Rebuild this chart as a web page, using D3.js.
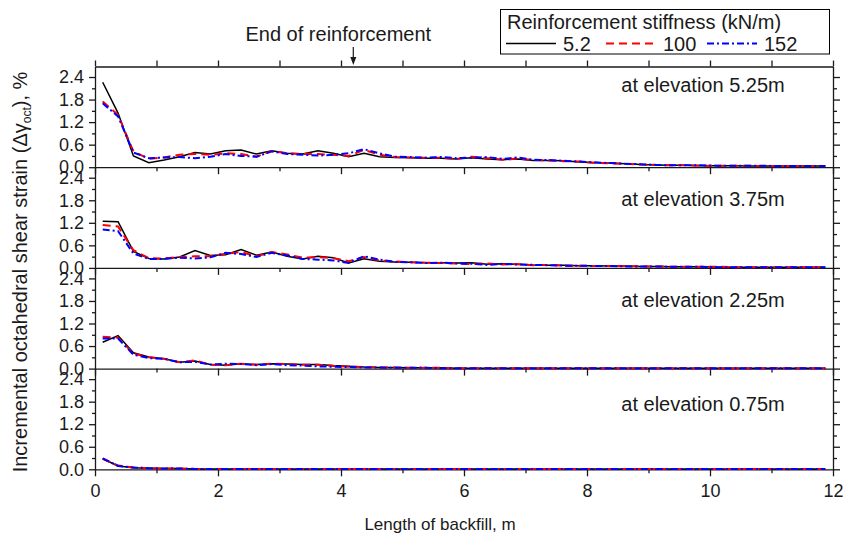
<!DOCTYPE html>
<html>
<head>
<meta charset="utf-8">
<script src="https://cdnjs.cloudflare.com/ajax/libs/d3/7.8.5/d3.min.js"></script>
<style>
    body { margin: 0; background: #fff; }
    #chart { width: 851px; height: 538px; }
    svg { display: block; font-family: 'Liberation Sans', Arial, sans-serif; }
    .axis path, .axis line { stroke: #1a1a1a; stroke-width: 1.3; }
    .axis text { fill: #1a1a1a; }
    .series { fill: none; }
</style>
</head>
<body>
<div id="chart"><svg></svg></div>
<script>

// positions along the backfill (m)
var xPos = [0.125, 0.375, 0.625, 0.875, 1.125, 1.375, 1.625, 1.875, 2.125, 2.375, 2.625, 2.875,
    3.125, 3.375, 3.625, 3.875, 4.125, 4.375, 4.625, 4.875, 5.125, 5.375, 5.625, 5.875,
    6.125, 6.375, 6.625, 6.875, 7.125, 7.375, 7.625, 7.875, 8.125, 8.375, 8.625, 8.875,
    9.125, 9.375, 9.625, 9.875, 10.125, 10.375, 10.625, 10.875, 11.125, 11.375, 11.625, 11.875];

var stiffness = ['5.2', '100', '152'];
var elevations = ['5.25m', '3.75m', '2.25m', '0.75m'];

var xTicks = [0, 2, 4, 6, 8, 10, 12];
var xMinorTicks = [1, 3, 5, 7, 9, 11];
var yTicks = [0, 0.6, 1.2, 1.8, 2.4];
var yMinorTicks = [0.3, 0.9, 1.5, 2.1];
var endOfReinforcement = 4.2;

// elevation 5.25 m
var e525k5 = [2.26, 1.44, 0.30, 0.12, 0.19, 0.28, 0.39, 0.35, 0.44, 0.46, 0.35, 0.44,
    0.37, 0.35, 0.44, 0.37, 0.28, 0.37, 0.28, 0.26, 0.25, 0.24, 0.24, 0.22,
    0.25, 0.22, 0.20, 0.22, 0.18, 0.18, 0.17, 0.14, 0.12, 0.11, 0.09, 0.07,
    0.06, 0.05, 0.05, 0.04, 0.04, 0.04, 0.03, 0.03, 0.03, 0.03, 0.03, 0.03];
var e525k100 = [1.75, 1.39, 0.42, 0.22, 0.26, 0.33, 0.35, 0.33, 0.37, 0.35, 0.28, 0.43,
    0.37, 0.35, 0.35, 0.33, 0.30, 0.46, 0.33, 0.27, 0.26, 0.25, 0.25, 0.22,
    0.28, 0.24, 0.20, 0.23, 0.19, 0.18, 0.16, 0.15, 0.12, 0.10, 0.09, 0.07,
    0.06, 0.05, 0.05, 0.04, 0.04, 0.04, 0.04, 0.03, 0.03, 0.03, 0.03, 0.03];
var e525k152 = [1.70, 1.35, 0.39, 0.24, 0.26, 0.27, 0.24, 0.28, 0.35, 0.30, 0.28, 0.42,
    0.35, 0.33, 0.31, 0.33, 0.37, 0.48, 0.37, 0.28, 0.27, 0.25, 0.27, 0.24,
    0.25, 0.27, 0.22, 0.26, 0.20, 0.19, 0.17, 0.15, 0.13, 0.11, 0.09, 0.08,
    0.06, 0.05, 0.05, 0.05, 0.04, 0.04, 0.04, 0.04, 0.03, 0.03, 0.03, 0.03];

// elevation 3.75 m
var e375k5 = [1.24, 1.23, 0.44, 0.25, 0.24, 0.29, 0.46, 0.33, 0.35, 0.49, 0.34, 0.42,
    0.31, 0.24, 0.31, 0.27, 0.13, 0.24, 0.18, 0.16, 0.15, 0.14, 0.14, 0.13,
    0.14, 0.10, 0.11, 0.10, 0.08, 0.07, 0.07, 0.06, 0.06, 0.05, 0.05, 0.04,
    0.04, 0.03, 0.03, 0.03, 0.02, 0.02, 0.02, 0.02, 0.02, 0.02, 0.02, 0.02];
var e375k100 = [1.14, 1.10, 0.47, 0.26, 0.25, 0.29, 0.31, 0.31, 0.38, 0.42, 0.31, 0.42,
    0.36, 0.27, 0.29, 0.26, 0.18, 0.29, 0.20, 0.17, 0.15, 0.14, 0.13, 0.12,
    0.10, 0.12, 0.09, 0.10, 0.07, 0.08, 0.06, 0.06, 0.05, 0.05, 0.05, 0.04,
    0.04, 0.03, 0.03, 0.03, 0.03, 0.02, 0.02, 0.02, 0.02, 0.02, 0.02, 0.02];
var e375k152 = [1.02, 0.98, 0.38, 0.24, 0.24, 0.27, 0.25, 0.28, 0.40, 0.37, 0.29, 0.40,
    0.33, 0.24, 0.22, 0.20, 0.13, 0.31, 0.22, 0.16, 0.15, 0.13, 0.14, 0.12,
    0.11, 0.08, 0.11, 0.09, 0.08, 0.07, 0.06, 0.06, 0.05, 0.05, 0.04, 0.04,
    0.04, 0.03, 0.03, 0.03, 0.02, 0.02, 0.02, 0.02, 0.02, 0.02, 0.02, 0.02];

// elevation 2.25 m
var e225k5 = [0.70, 0.88, 0.42, 0.31, 0.26, 0.17, 0.20, 0.11, 0.09, 0.13, 0.11, 0.13,
    0.12, 0.11, 0.11, 0.08, 0.06, 0.04, 0.03, 0.03, 0.02, 0.02, 0.02, 0.01,
    0.01, 0.01, 0.01, 0.01, 0.01, 0.01, 0.01, 0.01, 0.01, 0.01, 0.01, 0.01,
    0.01, 0.01, 0.01, 0.01, 0.01, 0.01, 0.01, 0.01, 0.01, 0.01, 0.01, 0.01];
var e225k100 = [0.85, 0.82, 0.40, 0.30, 0.26, 0.17, 0.22, 0.10, 0.09, 0.13, 0.10, 0.13,
    0.12, 0.10, 0.10, 0.07, 0.05, 0.04, 0.03, 0.03, 0.02, 0.02, 0.02, 0.01,
    0.01, 0.01, 0.01, 0.01, 0.01, 0.01, 0.01, 0.01, 0.01, 0.01, 0.01, 0.01,
    0.01, 0.01, 0.01, 0.01, 0.01, 0.01, 0.01, 0.01, 0.01, 0.01, 0.01, 0.01];
var e225k152 = [0.80, 0.80, 0.37, 0.28, 0.26, 0.17, 0.18, 0.11, 0.13, 0.12, 0.09, 0.12,
    0.09, 0.08, 0.06, 0.05, 0.04, 0.03, 0.03, 0.02, 0.02, 0.02, 0.01, 0.01,
    0.01, 0.01, 0.01, 0.01, 0.01, 0.01, 0.01, 0.01, 0.01, 0.01, 0.01, 0.01,
    0.01, 0.01, 0.01, 0.01, 0.01, 0.01, 0.01, 0.01, 0.01, 0.01, 0.01, 0.01];

// elevation 0.75 m
var e075k5 = [0.28, 0.09, 0.04, 0.03, 0.02, 0.02, 0.01, 0.01, 0.01, 0.01, 0.01, 0.01,
    0.01, 0.01, 0.01, 0.01, 0.01, 0.01, 0.01, 0.01, 0.01, 0.01, 0.01, 0.01,
    0.01, 0.01, 0.01, 0.01, 0.01, 0.01, 0.01, 0.01, 0.01, 0.01, 0.01, 0.01,
    0.01, 0.01, 0.01, 0.01, 0.01, 0.01, 0.01, 0.01, 0.01, 0.01, 0.01, 0.01];
var e075k100 = [0.28, 0.10, 0.05, 0.03, 0.02, 0.02, 0.01, 0.01, 0.01, 0.01, 0.01, 0.01,
    0.01, 0.01, 0.01, 0.01, 0.01, 0.01, 0.01, 0.01, 0.01, 0.01, 0.01, 0.01,
    0.01, 0.01, 0.01, 0.01, 0.01, 0.01, 0.01, 0.01, 0.01, 0.01, 0.01, 0.01,
    0.01, 0.01, 0.01, 0.01, 0.01, 0.01, 0.01, 0.01, 0.01, 0.01, 0.01, 0.01];
var e075k152 = [0.29, 0.09, 0.05, 0.03, 0.02, 0.02, 0.01, 0.01, 0.01, 0.01, 0.01, 0.01,
    0.01, 0.01, 0.01, 0.01, 0.01, 0.01, 0.01, 0.01, 0.01, 0.01, 0.01, 0.01,
    0.01, 0.01, 0.01, 0.01, 0.01, 0.01, 0.01, 0.01, 0.01, 0.01, 0.01, 0.01,
    0.01, 0.01, 0.01, 0.01, 0.01, 0.01, 0.01, 0.01, 0.01, 0.01, 0.01, 0.01];

var panelValues = [
    [e525k5, e525k100, e525k152],
    [e375k5, e375k100, e375k152],
    [e225k5, e225k100, e225k152],
    [e075k5, e075k100, e075k152]
];

// styles
var colors = ['#000000', '#ff0000', '#0000ff'],
    dashes = [null, '8,5', '7,3,2,3'],
    widths = [1.5, 2, 2],
    labelOffset = [25, 39, 39, 42];

var svg = d3.select('#chart svg')
    .attr('width', 851)
    .attr('height', 538);

var margin = { left: 95, right: 18, top: 66.5 },
    plotWidth = 851 - margin.left - margin.right,
    panelH = 100.7;

var x = d3.scaleLinear().domain([0, 12]).range([margin.left, margin.left + plotWidth]);

var line = d3.line()
    .x(function(d) { return x(d.x); })
    .y(function(d) { return d.yScale(d.v); });

function styleAxis(g, size) {
    g.selectAll('text')
        .attr('font-family', "'Liberation Sans', Arial, sans-serif")
        .style('font-size', size + 'px');
}

elevations.forEach(function(elev, p) {

    var top = margin.top + p * panelH,
        bottom = top + panelH;

    var y = d3.scaleLinear().domain([0, 2.68]).range([bottom, top]);

    var g = svg.append('g').attr('class', 'panel');

    // left axis
    g.append('g')
        .attr('class', 'axis')
        .attr('transform', 'translate(' + margin.left + ',0)')
        .call(d3.axisLeft(y).tickValues(yTicks).tickSize(6).tickSizeOuter(0).tickPadding(5)
            .tickFormat(d3.format('.1f')))
        .call(styleAxis, 18);
    g.append('g')
        .attr('class', 'axis')
        .attr('transform', 'translate(' + margin.left + ',0)')
        .call(d3.axisLeft(y).tickValues(yMinorTicks).tickSize(3).tickFormat(''))
        .select('.domain').remove();

    // right axis
    g.append('g')
        .attr('class', 'axis')
        .attr('transform', 'translate(' + (margin.left + plotWidth) + ',0)')
        .call(d3.axisRight(y).tickValues(yTicks).tickSize(7).tickSizeOuter(0).tickFormat(''));
    g.append('g')
        .attr('class', 'axis')
        .attr('transform', 'translate(' + (margin.left + plotWidth) + ',0)')
        .call(d3.axisRight(y).tickValues(yMinorTicks).tickSize(4).tickFormat(''))
        .select('.domain').remove();

    // bottom axis
    var last = p === elevations.length - 1;
    g.append('g')
        .attr('class', 'axis')
        .attr('transform', 'translate(0,' + bottom + ')')
        .call(d3.axisBottom(x).tickValues(xTicks).tickSize(7).tickSizeOuter(0).tickPadding(8)
            .tickFormat(last ? d3.format('d') : ''))
        .call(styleAxis, 18);
    g.append('g')
        .attr('class', 'axis')
        .attr('transform', 'translate(0,' + bottom + ')')
        .call(d3.axisBottom(x).tickValues(xMinorTicks).tickSize(4).tickFormat(''))
        .select('.domain').remove();

    if (p === 0) {
        g.append('g')
            .attr('class', 'axis')
            .attr('transform', 'translate(0,' + top + ')')
            .call(d3.axisTop(x).tickValues(xTicks.concat(xMinorTicks)).tickSize(6).tickSizeOuter(0).tickFormat(''));
    }

    // series
    panelValues[p].forEach(function(vals, s) {
        var pts = vals.map(function(v, i) {
            return { x: xPos[i], v: v, yScale: y };
        });
        g.append('path')
            .datum(pts)
            .attr('class', 'series')
            .attr('d', line)
            .style('stroke', colors[s])
            .style('stroke-width', widths[s])
            .style('stroke-dasharray', dashes[s]);
    });

    g.append('text')
        .attr('x', 703)
        .attr('y', top + labelOffset[p])
        .attr('text-anchor', 'middle')
        .style('font-size', '20px')
        .attr('fill', '#1a1a1a')
        .text('at elevation ' + elev);
});

// end of reinforcement marker
var ax = x(endOfReinforcement);
svg.append('text')
    .attr('x', ax - 15)
    .attr('y', 41)
    .attr('text-anchor', 'middle')
    .style('font-size', '20px')
    .attr('fill', '#1a1a1a')
    .text('End of reinforcement');
svg.append('line')
    .attr('x1', ax).attr('x2', ax)
    .attr('y1', 47).attr('y2', 60)
    .attr('stroke', '#1a1a1a')
    .attr('stroke-width', 1.2);
svg.append('path')
    .attr('d', 'M' + (ax - 3) + ',57L' + (ax + 3) + ',57L' + ax + ',65Z')
    .attr('fill', '#1a1a1a');

// axis titles
svg.append('text')
    .attr('x', 440)
    .attr('y', 530)
    .attr('text-anchor', 'middle')
    .style('font-size', '17px')
    .attr('fill', '#1a1a1a')
    .text('Length of backfill, m');

var yTitle = svg.append('text')
    .attr('transform', 'translate(27,272) rotate(-90)')
    .attr('text-anchor', 'middle')
    .style('font-size', '20px')
    .attr('fill', '#1a1a1a');
yTitle.append('tspan').text('Incremental octahedral shear strain (\u0394\u03b3');
yTitle.append('tspan').attr('dy', 4).style('font-size', '12px').text('oct');
yTitle.append('tspan').attr('dy', -4).text('), %');

// legend
var legend = svg.append('g').attr('class', 'legend');
legend.append('rect')
    .attr('x', 500.5).attr('y', 9.5)
    .attr('width', 329).attr('height', 44.5)
    .attr('fill', '#fff')
    .attr('stroke', '#000')
    .attr('stroke-width', 1);
legend.append('text')
    .attr('x', 507).attr('y', 29)
    .style('font-size', '20px')
    .attr('fill', '#1a1a1a')
    .text('Reinforcement stiffness (kN/m)');

var legendX = [506, 606, 707];
stiffness.forEach(function(k, s) {
    legend.append('line')
        .attr('x1', legendX[s]).attr('x2', legendX[s] + 50)
        .attr('y1', 43.5).attr('y2', 43.5)
        .style('stroke', colors[s])
        .style('stroke-width', widths[s])
        .style('stroke-dasharray', dashes[s]);
    legend.append('text')
        .attr('x', legendX[s] + 57).attr('y', 50.5)
        .style('font-size', '20px')
        .attr('fill', '#1a1a1a')
        .text(k);
});

</script>
</body>
</html>
